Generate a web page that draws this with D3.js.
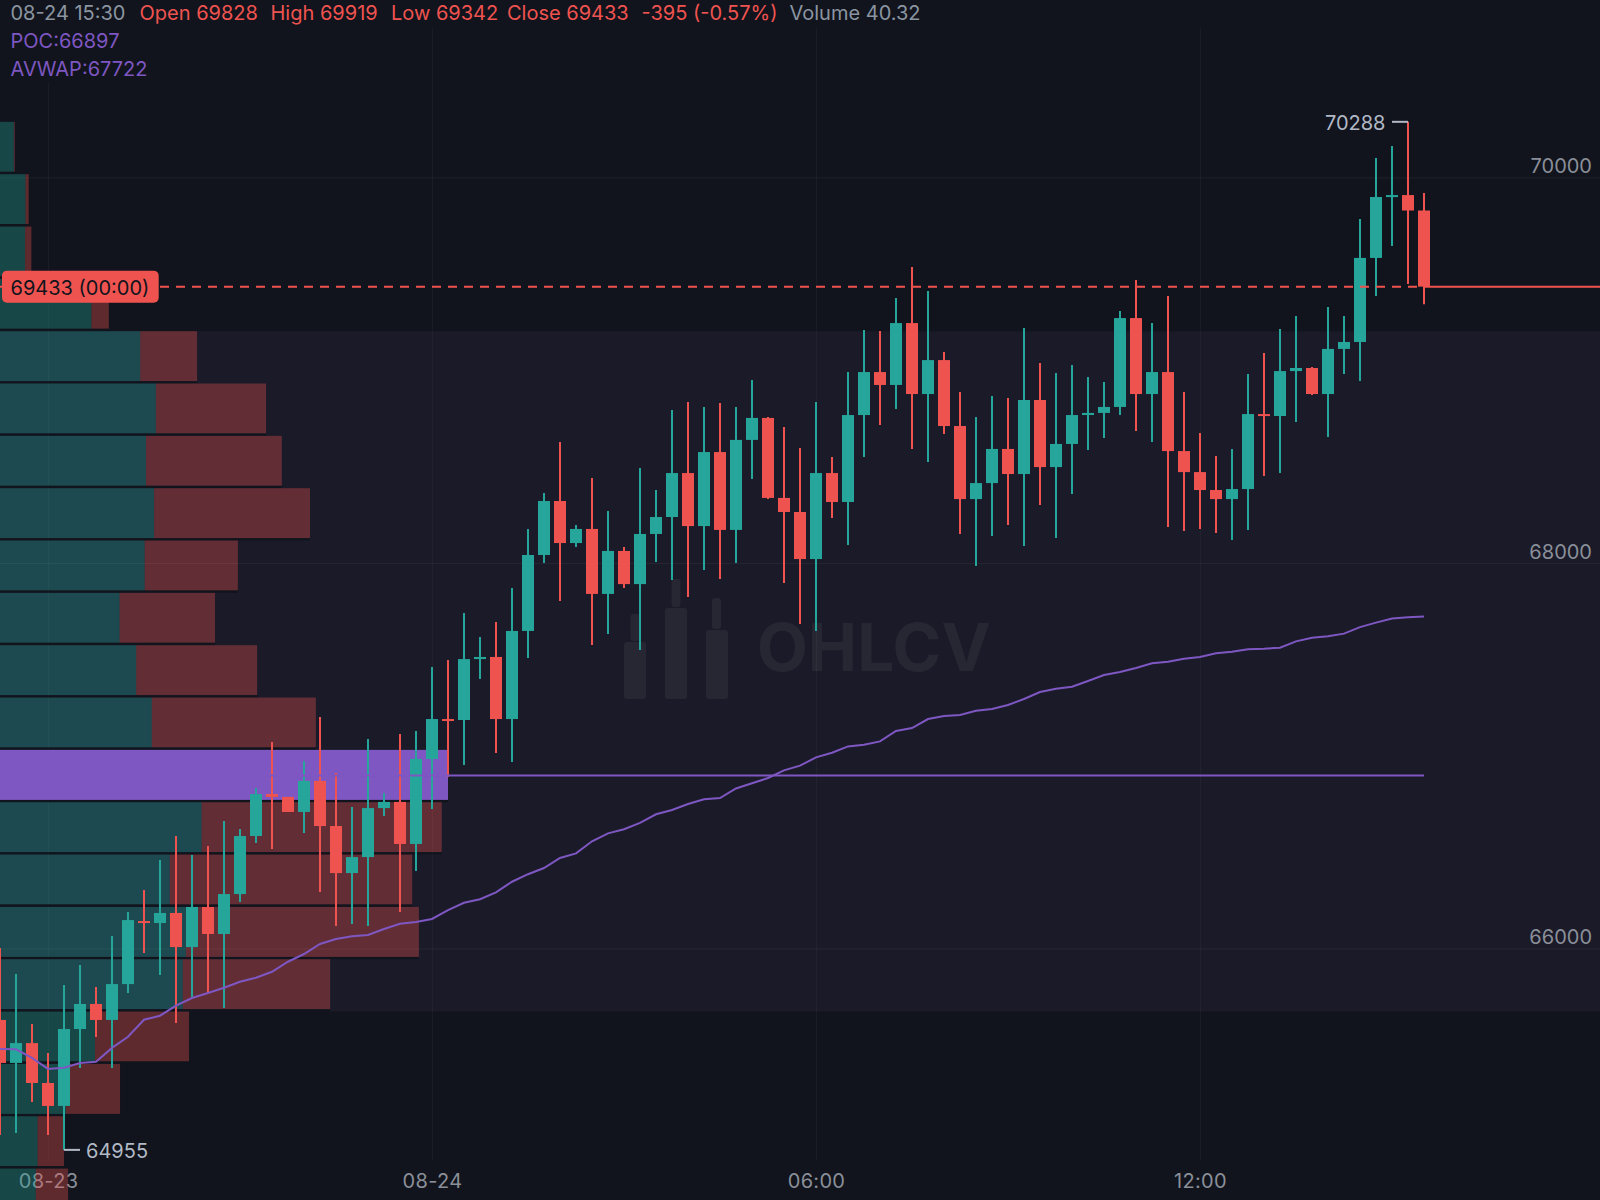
<!DOCTYPE html>
<html>
<head>
<meta charset="utf-8">
<script src="https://cdn.jsdelivr.net/npm/d3@7"></script>
<style>
	html, body { margin: 0; padding: 0; background: #11141c; }
	svg { display: block; font-family: Inter, "Liberation Sans", sans-serif; }
	.domain { display: none; }
</style>
</head>
<body>
<div id="chart"></div>
<script>
(function () {
	// 15 minute candles, oldest first
	var opens = [
		65629,65406,65509,65302,65183,65582,65712,65629,65815,66142,
		66132,66184,66007,66215,66075,66282,66583,66801,66786,66708,
		66869,66635,66391,66474,66728,66760,66542,66983,67190,67185,
		67501,67512,67190,67647,68041,68321,68103,68176,67839,68062,
		67890,68150,68238,68466,68191,68575,68171,68638,68752,68337,
		68264,68020,68466,68316,68767,68990,68923,69244,68876,69052,
		68710,68331,68414,68591,68461,68845,68497,68617,68767,68778,
		68809,69270,68876,68990,68580,68471,68378,68331,68383,68772,
		68762,68995,69011,68876,69110,69146,69582,69898,69908,69828
	];
	var highs = [
		66002,65867,65608,65458,65810,65914,65800,66064,66189,66303,
		66459,66583,66485,66531,66661,66620,66832,67071,66786,66972,
		67201,66910,66734,67086,66806,67112,67128,67460,67496,67740,
		67616,67693,67870,68176,68363,68627,68197,68440,68269,68082,
		68492,68378,68793,68835,68809,68829,68809,68949,68757,68705,
		68596,68835,68549,68990,69208,69203,69374,69535,69410,69094,
		68886,68757,68866,68855,69218,69037,68985,69027,68964,68938,
		69307,69468,69244,69384,68886,68674,68554,68591,68980,69089,
		69213,69281,69016,69327,69281,69784,70100,70163,70288,69919
	];
	var lows = [
		65032,65043,65203,65032,64955,65380,65541,65380,65769,65976,
		65862,65613,65743,65769,65691,66241,66547,66516,66708,66599,
		66293,66116,66127,66116,66687,66189,66402,66723,66889,66952,
		67398,67014,66967,67507,67999,67802,68082,67574,67631,67870,
		67548,68005,67911,67823,67963,67916,68000,68435,68331,67896,
		67683,67647,68233,68093,68549,68715,68798,68591,68523,68669,
		68150,67984,68139,68197,68088,68300,68129,68357,68586,68648,
		68767,68684,68627,68186,68165,68176,68155,68119,68171,68451,
		68466,68731,68871,68653,68980,68944,69384,69644,69447,69342
	];
	var closes = [
		65406,65509,65302,65183,65582,65712,65629,65815,66147,66132,
		66184,66007,66215,66075,66282,66583,66801,66786,66708,66869,
		66635,66391,66474,66728,66760,66542,66983,67190,67185,67501,
		67512,67190,67647,68041,68321,68103,68176,67839,68062,67890,
		68150,68238,68466,68191,68575,68171,68638,68752,68337,68264,
		68020,68466,68316,68767,68990,68923,69244,68876,69052,68710,
		68331,68414,68591,68461,68845,68497,68617,68767,68778,68809,
		69270,68876,68990,68580,68471,68378,68331,68383,68772,68762,
		68995,69011,68876,69110,69146,69582,69898,69908,69828,69433
	];
	var avwap = [
		65478,65477,65432,65375,65381,65406,65412,65484,65542,65630,
		65651,65703,65743,65769,65796,65827,65848,65879,65931,65971,
		66023,66049,66063,66070,66101,66128,66137,66153,66199,66237,
		66255,66291,66346,66385,66417,66469,66493,66556,66597,66618,
		66651,66696,66718,66749,66774,66780,66830,66857,66884,66924,
		66948,66991,67015,67048,67057,67074,67128,67143,67190,67206,
		67211,67233,67242,67263,67294,67330,67347,67358,67387,67418,
		67434,67455,67479,67487,67503,67512,67531,67539,67552,67555,
		67560,67593,67612,67619,67633,67667,67690,67712,67718,67722
	];

	// volume profile rows from the top bin down, as % of the POC row
	var buyVolume = [3.1,5.7,5.6,20.4,31.3,34.8,32.6,34.4,32.3,26.7,30.4,33.9,48,45,37.9,41.5,40.8,21.2,14.7,8.4,8];
	var sellVolume = [0.2,0.7,1.4,3.9,12.7,24.6,30.3,34.8,20.8,21.3,27,36.6,52,53.6,54.1,52,32.9,21,12.1,5.9,7.2];
	var profileTop = 70288;
	var binSize = 271.5;
	var pocRow = 12;
	var valueAreaRows = [4, 17];

	var poc = 66897;
	var lastPrice = 69433;
	var lastLabel = '69433 (00:00)';
	var priceTicks = [70000, 68000, 66000];
	var timeTicks = [3, 27, 51, 75];
	var timeLabels = ['08-23', '08-24', '06:00', '12:00'];
	var maxPoint = {bar: 88, price: 70288};
	var minPoint = {bar: 4, price: 64955};

	var legend = [
		{x: 10.5, y: 20, text: '08-24 15:30', color: 'muted'},
		{x: 139.5, y: 20, text: 'Open 69828', color: 'down'},
		{x: 270.5, y: 20, text: 'High 69919', color: 'down'},
		{x: 391, y: 20, text: 'Low 69342', color: 'down'},
		{x: 507, y: 20, text: 'Close 69433', color: 'down'},
		{x: 641.5, y: 20, text: '-395 (-0.57%)', color: 'down'},
		{x: 789.5, y: 20, text: 'Volume 40.32', color: 'muted'},
		{x: 10.5, y: 48, text: 'POC:66897', color: 'purple'},
		{x: 10.5, y: 76, text: 'AVWAP:67722', color: 'purple'}
	];

	var width = 1600;
	var height = 1200;
	var colors = {
		bg: '#11141c', band: '#1a1a28', up: '#26a69a', down: '#ef5350',
		purple: '#7e57c2', muted: '#8b95a1', axis: '#8a8f99', extreme: '#b2b9c6'
	};

	var x = d3.scaleLinear().domain([0, 100]).range([0, width]);
	var y = d3.scaleLinear().domain([64695, 70920]).range([height, 0]);
	var vol = d3.scaleLinear().domain([0, 100]).range([0, 448]);

	var svg = d3.select('#chart').append('svg')
		.attr('width', width).attr('height', height)
		.attr('viewBox', [0, 0, width, height]);

	svg.append('rect').attr('width', width).attr('height', height).attr('fill', colors.bg);

	// value area band behind everything
	var binEdge = i => profileTop - i * binSize;
	svg.append('rect')
		.attr('y', y(binEdge(valueAreaRows[0])))
		.attr('width', width)
		.attr('height', y(binEdge(valueAreaRows[1])) - y(binEdge(valueAreaRows[0])))
		.attr('fill', colors.band);

	// grid, labels come with the axes
	var yAxis = svg.append('g').call(
		d3.axisRight(y).tickValues(priceTicks).tickSize(width).tickFormat(d3.format('d'))
	);
	yAxis.selectAll('line').attr('stroke', '#fff').attr('stroke-opacity', 0.06);
	yAxis.selectAll('text')
		.attr('x', 1592).attr('y', -4.6).attr('dy', 0)
		.attr('text-anchor', 'end')
		.attr('fill', colors.axis)
		.style('font-size', '20px').style('font-family', 'Inter');

	var xAxis = svg.append('g').attr('transform', 'translate(0,1160)').call(
		d3.axisBottom(x).tickValues(timeTicks).tickSize(-1160)
			.tickFormat((d, i) => timeLabels[i])
	);
	xAxis.selectAll('line').attr('stroke', '#fff').attr('stroke-opacity', 0.035).attr('stroke-width', 1.2);
	xAxis.selectAll('text')
		.attr('y', 27.7).attr('dy', 0)
		.attr('fill', colors.axis)
		.style('font-size', '20px').style('font-family', 'Inter').style('letter-spacing', '0.3px');

	// legend sits on its own backing
	svg.append('rect').attr('width', width).attr('height', 27).attr('fill', colors.bg);
	svg.append('rect').attr('y', 27).attr('width', 150).attr('height', 55).attr('fill', colors.bg);

	// watermark
	var mark = svg.append('g').attr('fill', '#fff').attr('fill-opacity', 0.06);
	[[624, 642, 22, 57], [630.5, 614, 9, 27], [665, 608, 22, 91], [671.5, 579, 9, 28], [706, 630, 22, 69], [712, 598, 9, 31]]
		.forEach(function (r) {
			mark.append('rect')
				.attr('x', r[0]).attr('y', r[1]).attr('width', r[2]).attr('height', r[3]).attr('rx', 3);
		});
	mark.append('text').attr('x', 757).attr('y', 671)
		.style('font-size', '66px').style('font-weight', 700).style('font-family', 'Inter')
		.text('OHLCV');

	// volume profile
	var rows = buyVolume.map((b, i) => ({i: i, buy: b, sell: sellVolume[i]}));
	var rowHeight = i => y(binEdge(i + 1)) - y(binEdge(i));
	var profile = svg.append('g');
	rows.forEach(function (d) {
		var top = y(binEdge(d.i));
		var h = rowHeight(d.i) - 2.33;
		var g = profile.append('g');
		if (d.i === pocRow) {
			g.append('rect').attr('y', top).attr('width', vol(d.buy + d.sell)).attr('height', h)
				.attr('fill', colors.purple);
		} else {
			g.append('rect').attr('y', top).attr('width', vol(d.buy)).attr('height', h)
				.attr('fill', colors.up).attr('fill-opacity', 0.35);
			g.append('rect').attr('x', vol(d.buy)).attr('y', top).attr('width', vol(d.sell)).attr('height', h)
				.attr('fill', colors.down).attr('fill-opacity', 0.35);
		}
		g.append('line')
			.attr('x1', 0).attr('x2', vol(d.buy + d.sell))
			.attr('y1', top + h + 1.16).attr('y2', top + h + 1.16)
			.attr('stroke', colors.bg).attr('stroke-width', 2.33);
	});

	// candles
	var bars = opens.map((o, i) => ({i: i, o: o, h: highs[i], l: lows[i], c: closes[i]}));
	var candles = svg.append('g').selectAll('g').data(bars).enter().append('g')
		.attr('fill', d => d.c >= d.o ? colors.up : colors.down)
		.attr('stroke', d => d.c >= d.o ? colors.up : colors.down);
	candles.append('line')
		.attr('x1', d => x(d.i)).attr('x2', d => x(d.i))
		.attr('y1', d => y(d.h)).attr('y2', d => y(d.l))
		.attr('stroke-width', 2);
	candles.append('rect')
		.attr('x', d => x(d.i) - 6).attr('width', 12)
		.attr('y', d => y(Math.max(d.o, d.c)))
		.attr('height', d => Math.max(2, Math.abs(y(d.o) - y(d.c))))
		.attr('stroke', 'none');

	// POC and AVWAP run over the candles
	svg.append('line')
		.attr('x1', 0).attr('x2', x(bars.length - 1))
		.attr('y1', y(poc)).attr('y2', y(poc))
		.attr('stroke', colors.purple).attr('stroke-width', 2);
	svg.append('path')
		.attr('d', d3.line().x((d, i) => x(i)).y(d => y(d))(avwap))
		.attr('fill', 'none').attr('stroke', colors.purple).attr('stroke-width', 2);

	// last price
	svg.append('line')
		.attr('x1', 0).attr('x2', x(bars.length - 1))
		.attr('y1', y(lastPrice)).attr('y2', y(lastPrice))
		.attr('stroke', colors.down).attr('stroke-width', 2).attr('stroke-dasharray', '9 7');
	svg.append('line')
		.attr('x1', x(bars.length - 1)).attr('x2', width)
		.attr('y1', y(lastPrice)).attr('y2', y(lastPrice))
		.attr('stroke', colors.down).attr('stroke-width', 2);
	svg.append('rect')
		.attr('x', 2).attr('y', y(lastPrice) - 16).attr('width', 156.7).attr('height', 32).attr('rx', 5)
		.attr('fill', colors.down);
	svg.append('text')
		.attr('x', 10.5).attr('y', y(lastPrice) + 8)
		.attr('fill', '#11141c').style('font-size', '20px')
		.text(lastLabel);

	// high and low callouts
	svg.append('line')
		.attr('x1', x(maxPoint.bar) - 16).attr('x2', x(maxPoint.bar))
		.attr('y1', y(maxPoint.price)).attr('y2', y(maxPoint.price))
		.attr('stroke', colors.extreme).attr('stroke-width', 2);
	svg.append('text')
		.attr('x', x(maxPoint.bar) - 22.5).attr('y', y(maxPoint.price) + 8)
		.attr('text-anchor', 'end').attr('fill', colors.extreme).style('font-size', '20px')
		.text(maxPoint.price);
	svg.append('line')
		.attr('x1', x(minPoint.bar)).attr('x2', x(minPoint.bar) + 16)
		.attr('y1', y(minPoint.price)).attr('y2', y(minPoint.price))
		.attr('stroke', colors.extreme).attr('stroke-width', 2);
	svg.append('text')
		.attr('x', x(minPoint.bar) + 22).attr('y', y(minPoint.price) + 8)
		.attr('fill', colors.extreme).style('font-size', '20px')
		.text(minPoint.price);

	// legend text
	svg.append('g').selectAll('text').data(legend).enter().append('text')
		.attr('x', d => d.x).attr('y', d => d.y)
		.attr('fill', d => colors[d.color])
		.style('font-size', '20px')
		.text(d => d.text);
})();
</script>
</body>
</html>
